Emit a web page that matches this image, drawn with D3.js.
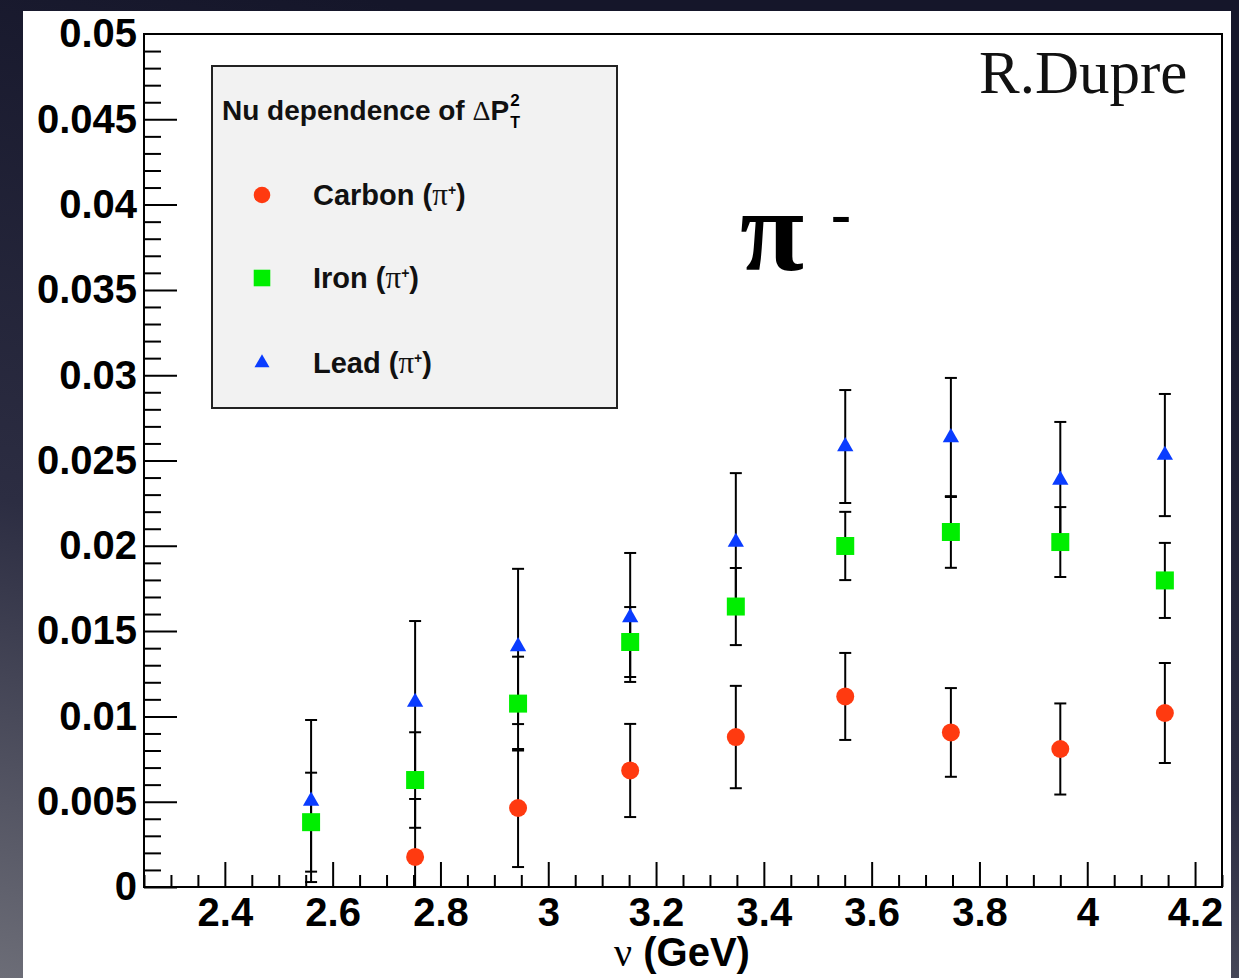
<!DOCTYPE html>
<html>
<head>
<meta charset="utf-8">
<script src="https://cdn.jsdelivr.net/npm/d3@7"></script>
<style>
  body { margin: 0; background: #1c1d2e; }
  svg { display: block; }
</style>
</head>
<body>
<div id="chart"></div>
<script>
// point positions in nu (GeV)
const nuBins = [2.56, 2.753, 2.944, 3.152, 3.348, 3.551, 3.747, 3.95, 4.144];

// Carbon has no point in the first bin
const carbonVals = [null, 0.00176, 0.00463, 0.00683, 0.00879, 0.01117, 0.00906, 0.00809, 0.0102];
const carbonErrs = [null, 0.0034, 0.00346, 0.00273, 0.0030, 0.00255, 0.0026, 0.00267, 0.00293];

const ironVals = [0.0038, 0.00627, 0.01075, 0.01436, 0.01644, 0.01999, 0.02081, 0.02022, 0.01797];
const ironErrs = [0.0029, 0.0028, 0.00275, 0.00205, 0.00226, 0.0020, 0.0021, 0.00205, 0.0022];

const leadVals = [0.00504, 0.01084, 0.0141, 0.0158, 0.02022, 0.02582, 0.02635, 0.02386, 0.02532];
const leadErrs = [0.00475, 0.00475, 0.00455, 0.00378, 0.00404, 0.00331, 0.00349, 0.0034, 0.00358];

const xTicks = [2.4, 2.6, 2.8, 3.0, 3.2, 3.4, 3.6, 3.8, 4.0, 4.2];
const xTickLabels = ["2.4", "2.6", "2.8", "3", "3.2", "3.4", "3.6", "3.8", "4", "4.2"];
const yTicks = [0, 0.005, 0.01, 0.015, 0.02, 0.025, 0.03, 0.035, 0.04, 0.045, 0.05];
const yTickLabels = ["0", "0.005", "0.01", "0.015", "0.02", "0.025", "0.03", "0.035", "0.04", "0.045", "0.05"];

const series = [
  { name: "Carbon", vals: carbonVals, errs: carbonErrs, color: "#ff3a10", shape: d3.symbolCircle, size: 254 },
  { name: "Iron", vals: ironVals, errs: ironErrs, color: "#00ee00", shape: d3.symbolSquare, size: 324 },
  { name: "Lead", vals: leadVals, errs: leadErrs, color: "#0a3cff", shape: d3.symbolTriangle, size: 115 }
];

const W = 1239, H = 978;
const frame = { left: 144, right: 1222, top: 34, bottom: 887 };
const sans = "'Liberation Sans', Arial, Helvetica, sans-serif";
const serif = "'Liberation Serif', 'Times New Roman', serif";

const svg = d3.select("#chart").append("svg")
  .attr("width", W)
  .attr("height", H);

// slide background
const defs = svg.append("defs");
const grad = defs.append("linearGradient")
  .attr("id", "bg")
  .attr("x1", 0.3).attr("y1", 0).attr("x2", 0).attr("y2", 1);
grad.append("stop").attr("offset", "0%").attr("stop-color", "#15162a");
grad.append("stop").attr("offset", "55%").attr("stop-color", "#2c2d42");
grad.append("stop").attr("offset", "100%").attr("stop-color", "#6c6d77");
svg.append("rect").attr("width", W).attr("height", H).attr("fill", "url(#bg)");

// white canvas
svg.append("rect")
  .attr("x", 23).attr("y", 11)
  .attr("width", 1231 - 23).attr("height", H - 11)
  .attr("fill", "#fff");

defs.append("clipPath").attr("id", "plotclip")
  .append("rect")
  .attr("x", frame.left).attr("y", frame.top)
  .attr("width", frame.right - frame.left)
  .attr("height", frame.bottom - frame.top);

const x = d3.scaleLinear().domain([2.25, 4.25]).range([frame.left, frame.right]);
const y = d3.scaleLinear().domain([0, 0.05]).range([frame.bottom, frame.top]);

// minor ticks
const xMinor = d3.range(0, 41).map(i => +(2.25 + i * 0.05).toFixed(2)).filter(v => !xTicks.some(t => Math.abs(t - v) < 1e-6));
const yMinor = d3.range(0, 51).map(i => +(i * 0.001).toFixed(3)).filter(v => !yTicks.some(t => Math.abs(t - v) < 1e-9));

function styleAxis(g) {
  g.select(".domain").remove();
  g.selectAll("line").attr("stroke", "#000").attr("stroke-width", 2);
  g.selectAll("text")
    .attr("font-family", sans)
    .attr("font-weight", "bold")
    .attr("font-size", 40)
    .attr("fill", "#000");
}

svg.append("g")
  .attr("transform", `translate(0,${frame.bottom})`)
  .call(d3.axisBottom(x).tickValues(xMinor).tickSize(-12).tickFormat(""))
  .call(styleAxis);
svg.append("g")
  .attr("transform", `translate(0,${frame.bottom})`)
  .call(d3.axisBottom(x).tickValues(xTicks).tickSize(-25).tickPadding(11)
    .tickFormat((d, i) => xTickLabels[i]))
  .call(styleAxis);

svg.append("g")
  .attr("transform", `translate(${frame.left},0)`)
  .call(d3.axisLeft(y).tickValues(yMinor).tickSize(-17).tickFormat(""))
  .call(styleAxis);
svg.append("g")
  .attr("transform", `translate(${frame.left},0)`)
  .call(d3.axisLeft(y).tickValues(yTicks).tickSize(-33).tickPadding(7)
    .tickFormat((d, i) => yTickLabels[i]))
  .call(styleAxis)
  .call(g => g.selectAll(".tick").filter(d => d === 0.05).select("line").remove());

// frame
svg.append("rect")
  .attr("x", frame.left).attr("y", frame.top)
  .attr("width", frame.right - frame.left)
  .attr("height", frame.bottom - frame.top)
  .attr("fill", "none")
  .attr("stroke", "#000")
  .attr("stroke-width", 2);

// axis title
const xt = svg.append("text")
  .attr("x", 682).attr("y", 966)
  .attr("text-anchor", "middle")
  .attr("font-family", sans)
  .attr("font-weight", "bold")
  .attr("font-size", 40);
xt.append("tspan").attr("font-family", serif).attr("font-weight", "normal").text("ν");
xt.append("tspan").text(" (GeV)");

// error bars, then markers
const plot = svg.append("g").attr("clip-path", "url(#plotclip)");
series.forEach(s => {
  const pts = nuBins.map((b, i) => ({ x: b, v: s.vals[i], e: s.errs[i] })).filter(p => p.v !== null);
  const eb = plot.append("g").attr("stroke", "#000").attr("stroke-width", 2);
  eb.selectAll("line.bar").data(pts).enter().append("line")
    .attr("x1", d => x(d.x)).attr("x2", d => x(d.x))
    .attr("y1", d => y(d.v - d.e)).attr("y2", d => y(d.v + d.e));
  eb.selectAll("line.capHi").data(pts).enter().append("line")
    .attr("x1", d => x(d.x) - 6).attr("x2", d => x(d.x) + 6)
    .attr("y1", d => y(d.v + d.e)).attr("y2", d => y(d.v + d.e));
  eb.selectAll("line.capLo").data(pts).enter().append("line")
    .attr("x1", d => x(d.x) - 6).attr("x2", d => x(d.x) + 6)
    .attr("y1", d => y(d.v - d.e)).attr("y2", d => y(d.v - d.e));
  s.pts = pts;
});
series.forEach(s => {
  plot.append("g").selectAll("path").data(s.pts).enter().append("path")
    .attr("d", d3.symbol().type(s.shape).size(s.size))
    .attr("transform", d => `translate(${x(d.x)},${y(d.v)})`)
    .attr("fill", s.color);
});

// legend
const leg = svg.append("g");
leg.append("rect")
  .attr("x", 212).attr("y", 66)
  .attr("width", 405).attr("height", 342)
  .attr("fill", "#f2f2f2")
  .attr("stroke", "#222")
  .attr("stroke-width", 2);

const title = leg.append("text")
  .attr("x", 222).attr("y", 120)
  .attr("font-family", sans)
  .attr("font-weight", "bold")
  .attr("font-size", 28)
  .attr("fill", "#111");
title.append("tspan").text("Nu dependence of ");
title.append("tspan").attr("font-family", serif).attr("font-weight", "normal").text("Δ");
title.append("tspan").text("P");
const tw = title.node().getComputedTextLength();
leg.append("text").attr("x", 222 + tw + 1).attr("y", 106)
  .attr("font-family", sans).attr("font-weight", "bold").attr("font-size", 17).text("2");
leg.append("text").attr("x", 222 + tw + 1).attr("y", 128)
  .attr("font-family", sans).attr("font-weight", "bold").attr("font-size", 16).text("T");

const legY = [195, 278, 363];
series.forEach((s, i) => {
  leg.append("path")
    .attr("d", d3.symbol().type(s.shape).size(s.size * 0.85))
    .attr("transform", `translate(262,${legY[i]})`)
    .attr("fill", s.color);
  const t = leg.append("text")
    .attr("x", 313).attr("y", legY[i] + 10)
    .attr("font-family", sans)
    .attr("font-weight", "bold")
    .attr("font-size", 29)
    .attr("fill", "#111");
  t.append("tspan").text(s.name + " (");
  t.append("tspan").attr("font-family", serif).attr("font-weight", "normal").attr("font-size", 31).text("π");
  t.append("tspan").attr("font-size", 14).attr("dy", -10).text("+");
  t.append("tspan").attr("dy", 10).text(")");
});

// annotations
svg.append("text")
  .attr("x", 740).attr("y", 270)
  .attr("font-family", serif)
  .attr("font-weight", "bold")
  .attr("font-size", 117)
  .text("π");
svg.append("text")
  .attr("x", 831).attr("y", 233)
  .attr("font-family", serif)
  .attr("font-weight", "bold")
  .attr("font-size", 60)
  .text("-");
svg.append("text")
  .attr("x", 979).attr("y", 93)
  .attr("font-family", serif)
  .attr("font-size", 61)
  .attr("fill", "#111")
  .text("R.Dupre");
</script>
</body>
</html>
